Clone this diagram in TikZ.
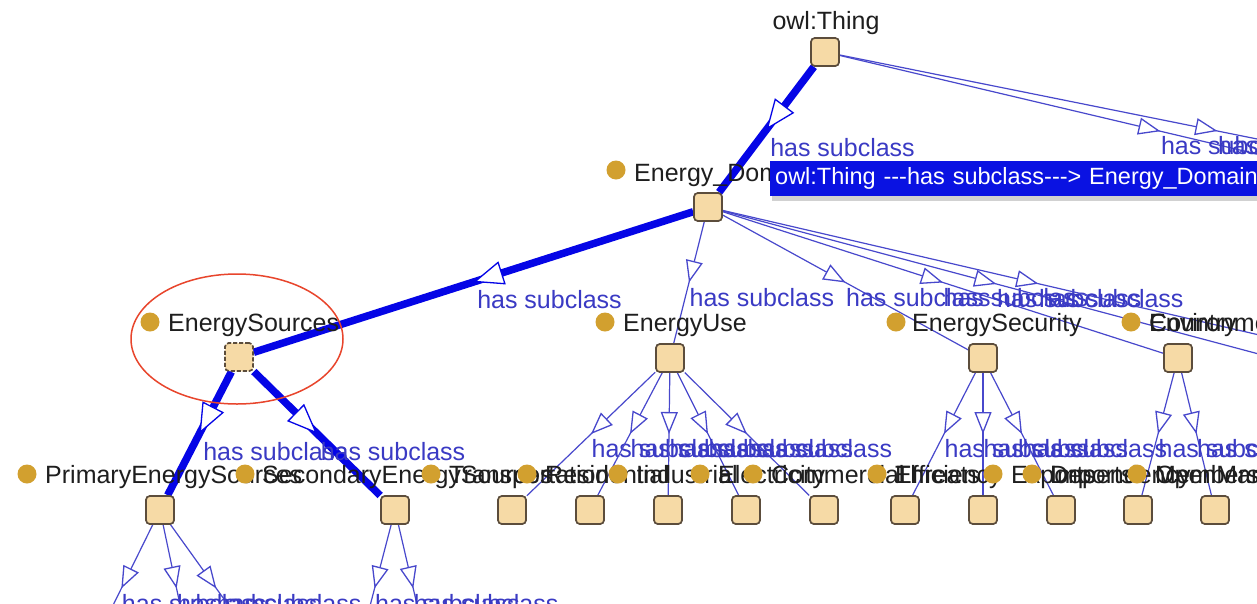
\documentclass[tikz,border=0pt]{standalone}
\usepackage{fontspec}
\setmainfont{Liberation Sans}
\usetikzlibrary{arrows.meta,decorations.markings}
\definecolor{boxfill}{HTML}{F6DAA6}
\definecolor{boxline}{HTML}{5C4D3C}
\definecolor{dotc}{HTML}{D2A02F}
\definecolor{thinc}{HTML}{4848CC}
\definecolor{thickc}{HTML}{0505E6}
\definecolor{labc}{HTML}{3A3AC4}
\definecolor{tipc}{HTML}{0A12E2}
\definecolor{ovalc}{HTML}{E8452C}
\definecolor{txtc}{HTML}{1E1E1E}
\tikzset{
  cls/.style={draw=boxline, line width=1.6pt, fill=boxfill, rounded corners=4pt, minimum size=28pt, inner sep=0pt},
  selcls/.style={cls, dash pattern=on 4pt off 2pt},
  gdot/.style={circle, fill=dotc, minimum size=19pt, inner sep=0pt},
  ntext/.style={anchor=base west, inner sep=0pt, text=txtc, font=\fontsize{25}{30}\selectfont},
  elab/.style={anchor=north west, inner sep=0pt, yshift=-5pt, text=labc, font=\fontsize{25}{30}\selectfont},
  thinedge/.style={draw=thinc, line width=1.2pt, postaction={decorate},
    decoration={markings, mark=at position 0.5 with {\arrow{Triangle[length=22pt, width=17pt, line width=1.3pt, fill=white]}}}},
  thickedge/.style={draw=thickc, line width=7.5pt, postaction={decorate},
    decoration={markings, mark=at position 0.5 with {\arrow{Triangle[length=30pt, width=24pt, line width=1.3pt, fill=white]}}}},
  tooltip/.style={anchor=north west, fill=tipc, text=white, minimum height=35pt, text width=492pt, align=left,
    inner xsep=5pt, inner ysep=0pt, font=\fontsize{23.5}{28}\selectfont},
}
\begin{document}
\begin{tikzpicture}[x=1pt,y=-1pt]
\useasboundingbox (0,0) rectangle (1257,603);
\clip (0,0) rectangle (1257,603);
\fill[white] (0,0) rectangle (1257,603);

% class boxes
\node[cls] (thing) at (825,52) {};
\node[cls] (dom) at (708,207) {};
\node[selcls] (src) at (239,357) {};
\node[cls] (use) at (670,358) {};
\node[cls] (sec) at (983,358) {};
\node[cls] (ctry) at (1178,358) {};
\node[cls] (pri) at (160,510) {};
\node[cls] (snd) at (395,510) {};
\node[cls] (u1) at (512,510) {};
\node[cls] (u2) at (590,510) {};
\node[cls] (u3) at (668,510) {};
\node[cls] (u4) at (746,510) {};
\node[cls] (u5) at (824,510) {};
\node[cls] (s1) at (905,510) {};
\node[cls] (s2) at (983,510) {};
\node[cls] (s3) at (1061,510) {};
\node[cls] (c1) at (1138,510) {};
\node[cls] (c2) at (1215,510) {};

% off-picture ends
\coordinate (o1) at (1481,207);
\coordinate (o2) at (1595,207);
\coordinate (o3) at (1270,357);
\coordinate (o4) at (1354,357);
\coordinate (p1) at (90,652);
\coordinate (p2) at (190,652);
\coordinate (p3) at (262,652);
\coordinate (q1) at (358,652);
\coordinate (q2) at (428,652);

% connectors
\draw[thinedge] (thing) -- node[elab] {has subclass} (o1);
\draw[thinedge] (thing) -- node[elab] {has subclass} (o2);
\draw[thinedge] (dom) -- node[elab] {has subclass} (use);
\draw[thinedge] (dom) -- node[elab] {has subclass} (sec);
\draw[thinedge] (dom) -- node[elab] {has subclass} (ctry);
\draw[thinedge] (dom) -- node[elab] {has subclass} (o3);
\draw[thinedge] (dom) -- node[elab] {has subclass} (o4);
\foreach \c in {u1,u2,u3,u4,u5} {\draw[thinedge] (use) -- node[elab] {has subclass} (\c);}
\foreach \c in {s1,s2,s3} {\draw[thinedge] (sec) -- node[elab] {has subclass} (\c);}
\foreach \c in {c1,c2} {\draw[thinedge] (ctry) -- node[elab] {has subclass} (\c);}
\foreach \c in {p1,p2,p3} {\draw[thinedge] (pri) -- node[elab] {has subclass} (\c);}
\foreach \c in {q1,q2} {\draw[thinedge] (snd) -- node[elab] {has subclass} (\c);}
\draw[thickedge] (thing) -- node[elab] {has subclass} (dom);
\draw[thickedge] (dom) -- node[elab] {has subclass} (src);
\draw[thickedge] (src) -- node[elab] {has subclass} (pri);
\draw[thickedge] (src) -- node[elab] {has subclass} (snd);

% redraw boxes on top of the lines
\foreach \n in {thing,dom,use,sec,ctry,pri,snd,u1,u2,u3,u4,u5,s1,s2,s3,c1,c2}
  {\node[cls] at (\n) {};}
\node[selcls] at (src) {};

% class names
\node[ntext, anchor=base] (tThing) at (826,29) {owl:Thing};
\node[ntext] (tDom) at (634,181) {Energy\_Domain};
\node[ntext] (tSrc) at (168,331) {EnergySources};
\node[ntext] (tUse) at (623,331) {EnergyUse};
\node[ntext] (tSec) at (912,331) {EnergySecurity};
\node[ntext] (tEnv) at (1149,331) {Environment};
\node[ntext] (tCty) at (1149,331) {Country};
\node[ntext] (tPri) at (45,483) {PrimaryEnergySources};
\node[ntext] (tSnd) at (262,483) {SecondaryEnergySources};
\node[ntext] (tU1) at (449,483) {Transportation};
\node[ntext] (tU2) at (545,483) {Residential};
\node[ntext] (tU3) at (636,483) {Industrial};
\node[ntext] (tU4) at (718,483) {Electricity};
\node[ntext] (tU5) at (771,483) {Commercial};
\node[ntext] (tS1a) at (895,483) {Threats};
\node[ntext] (tS1b) at (895,483) {Efficiency};
\node[ntext] (tS2) at (1011,483) {Exports};
\node[ntext] (tS3a) at (1050,483) {Imports};
\node[ntext] (tS3b) at (1050,483) {Dependency};
\node[ntext] (tC1a) at (1155,483) {OpenMarkets};
\node[ntext] (tC1b) at (1155,483) {Members};

% class dots
\node[gdot] (dDom) at (616,170) {};
\node[gdot] (dSrc) at (150,322) {};
\node[gdot] (dUse) at (605,322) {};
\node[gdot] (dSec) at (896,322) {};
\node[gdot] (dCty) at (1131,322) {};
\node[gdot] (dPri) at (27,474) {};
\node[gdot] (dSnd) at (245,474) {};
\node[gdot] (dU1) at (431,474) {};
\node[gdot] (dU2) at (527,474) {};
\node[gdot] (dU3) at (618,474) {};
\node[gdot] (dU4) at (700,474) {};
\node[gdot] (dU5) at (753,474) {};
\node[gdot] (dS1) at (877,474) {};
\node[gdot] (dS2) at (993,474) {};
\node[gdot] (dS3) at (1032,474) {};
\node[gdot] (dC1) at (1137,474) {};

% tooltip
\fill[black!18] (772,195) rectangle (1262,201);
\node[tooltip] (tip) at (770,161) {owl:Thing -{}-{}-has subclass-{}-{}-> Energy\_Domain};

% selection ring
\draw[ovalc, line width=1.5pt] (237,339) ellipse [x radius=106pt, y radius=65pt];
\end{tikzpicture}
\end{document}
